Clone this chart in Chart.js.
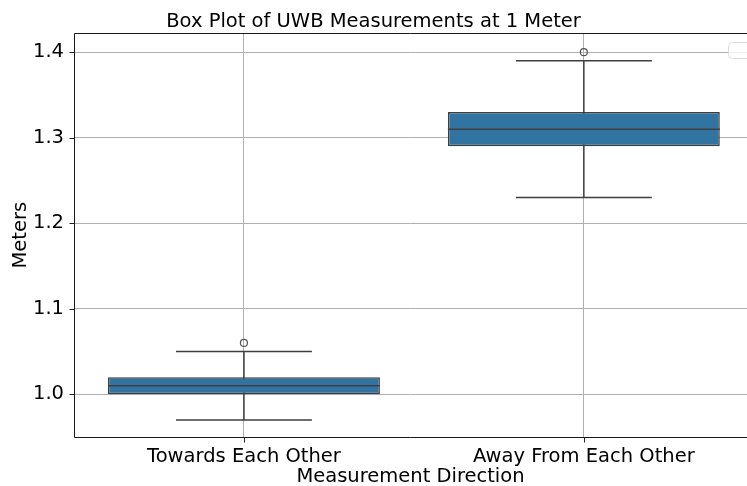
<!DOCTYPE html>
<html>
<head>
<meta charset="utf-8">
<script src="https://cdn.jsdelivr.net/npm/chart.js@4.4.1/dist/chart.umd.min.js"></script>
<style>
  html, body { margin: 0; padding: 0; background: #fff; }
  #wrap { width: 747px; height: 486px; }
</style>
</head>
<body>
<div id="wrap"><canvas id="boxChart"></canvas></div>
<script>
// data
const categories = ['Towards Each Other', 'Away From Each Other'];
const q1Values = [1.00, 1.29];
const q3Values = [1.02, 1.33];
const medianValues = [1.01, 1.31];
const whiskerLow = [0.97, 1.23];
const whiskerHigh = [1.05, 1.39];
const outliers = [[1.06], [1.40]];
const yTicks = [1.0, 1.1, 1.2, 1.3, 1.4];

const FONT = "'DejaVu Sans', sans-serif";
const FONT_SIZE = 19.5;
const BOX_COLOR = '#3274a1';
const LINE_COLOR = '#3f3f3f';
const TICK_LEN = 5;

// whiskers, caps, medians, tick marks, spines and the (empty) legend frame
const boxExtras = {
    id: 'boxExtras',
    beforeDatasetsDraw(chart) {
        const { ctx, scales: { x, y } } = chart;
        ctx.save();
        ctx.strokeStyle = LINE_COLOR;
        ctx.lineWidth = 1.5;
        categories.forEach((c, i) => {
            const cx = x.getPixelForValue(i);
            const half = (x.getPixelForValue(i + 0.2) - cx);
            ctx.beginPath();
            ctx.moveTo(cx, y.getPixelForValue(whiskerLow[i]));
            ctx.lineTo(cx, y.getPixelForValue(whiskerHigh[i]));
            [whiskerLow[i], whiskerHigh[i]].forEach(v => {
                const py = y.getPixelForValue(v);
                ctx.moveTo(cx - half, py);
                ctx.lineTo(cx + half, py);
            });
            ctx.stroke();
        });
        ctx.restore();
    },
    afterDatasetsDraw(chart) {
        const { ctx, chartArea, scales: { x, y } } = chart;
        const left = Math.round(chartArea.left) + 0.5;
        const top = Math.round(chartArea.top) + 0.5;
        const bottom = Math.round(chartArea.bottom) + 0.5;
        const right = chartArea.right;
        ctx.save();
        categories.forEach((c, i) => {
            const cx = x.getPixelForValue(i);
            const half = (x.getPixelForValue(i + 0.4) - cx);
            const py = y.getPixelForValue(medianValues[i]);
            ctx.strokeStyle = LINE_COLOR;
            ctx.lineWidth = 1.5;
            ctx.beginPath();
            ctx.moveTo(cx - half, py);
            ctx.lineTo(cx + half, py);
            ctx.stroke();
            // outliers
            outliers[i].forEach(v => {
                ctx.beginPath();
                ctx.arc(cx, y.getPixelForValue(v), 3.5, 0, Math.PI * 2);
                ctx.strokeStyle = '#555';
                ctx.lineWidth = 1.2;
                ctx.stroke();
            });
        });
        // tick marks
        ctx.strokeStyle = '#222';
        ctx.lineWidth = 1;
        ctx.beginPath();
        categories.forEach((c, i) => {
            const px = Math.round(x.getPixelForValue(i)) + 0.5;
            ctx.moveTo(px, bottom);
            ctx.lineTo(px, bottom + TICK_LEN);
        });
        yTicks.forEach(v => {
            const py = Math.round(y.getPixelForValue(v)) + 0.5;
            ctx.moveTo(left - TICK_LEN, py);
            ctx.lineTo(left, py);
        });
        ctx.stroke();
        // spines: left, bottom, top (right one is outside the picture)
        ctx.strokeStyle = '#1a1a1a';
        ctx.lineWidth = 1;
        ctx.beginPath();
        ctx.moveTo(right, top);
        ctx.lineTo(left, top);
        ctx.lineTo(left, bottom);
        ctx.lineTo(right, bottom);
        ctx.stroke();
        // empty legend box (matplotlib draws one with no handles)
        ctx.fillStyle = 'rgba(255,255,255,0.8)';
        ctx.strokeStyle = '#dcdcdc';
        ctx.lineWidth = 1;
        ctx.beginPath();
        ctx.roundRect(728.5, 42.5, 30, 16, 4);
        ctx.fill();
        ctx.stroke();
        ctx.restore();
    }
};

new Chart(document.getElementById('boxChart'), {
    type: 'bar',
    data: {
        datasets: [{
            label: 'box',
            data: categories.map((c, i) => ({ x: i, y: [q1Values[i], q3Values[i]] })),
            backgroundColor: BOX_COLOR,
            borderColor: LINE_COLOR,
            borderWidth: 1.5,
            borderSkipped: false,
            barPercentage: 0.8,
            categoryPercentage: 1.0
        }]
    },
    options: {
        responsive: true,
        maintainAspectRatio: false,
        animation: false,
        layout: { padding: { left: 0, right: 0, top: 0, bottom: 0 } },
        plugins: {
            legend: { display: false },
            tooltip: { enabled: false },
            title: {
                display: true,
                text: 'Box Plot of UWB Measurements at 1 Meter',
                color: '#000',
                font: { family: FONT, size: FONT_SIZE, weight: 'normal', lineHeight: 1.2 },
                padding: { top: 10, bottom: 0 }
            }
        },
        scales: {
            x: {
                type: 'linear',
                offset: false,
                min: -0.5,
                max: 1.48,
                afterBuildTicks: axis => { axis.ticks = categories.map((c, i) => ({ value: i })); },
                afterFit: axis => { axis.height = 49; },
                ticks: {
                    callback: v => categories[v],
                    color: '#000',
                    font: { family: FONT, size: FONT_SIZE },
                    padding: 3 + TICK_LEN,
                    maxRotation: 0,
                    autoSkip: false
                },
                grid: { color: '#b0b0b0', lineWidth: 1, drawTicks: false, offset: false },
                border: { display: false },
                title: {
                    display: true,
                    text: 'Measurement Direction',
                    color: '#000',
                    font: { family: FONT, size: FONT_SIZE, lineHeight: 1.2 },
                    padding: { top: 0, bottom: -3 }
                }
            },
            y: {
                min: 0.95,
                max: 1.422,
                afterBuildTicks: axis => { axis.ticks = yTicks.map(v => ({ value: v })); },
                afterFit: axis => { axis.width = 74; },
                ticks: {
                    callback: v => v.toFixed(1),
                    color: '#000',
                    font: { family: FONT, size: FONT_SIZE },
                    padding: 5 + TICK_LEN
                },
                grid: { color: '#b0b0b0', lineWidth: 1, drawTicks: false },
                border: { display: false },
                title: {
                    display: true,
                    text: 'Meters',
                    color: '#000',
                    font: { family: FONT, size: FONT_SIZE },
                    padding: { top: 9, bottom: 0 }
                }
            }
        }
    },
    plugins: [boxExtras]
});
</script>
</body>
</html>
